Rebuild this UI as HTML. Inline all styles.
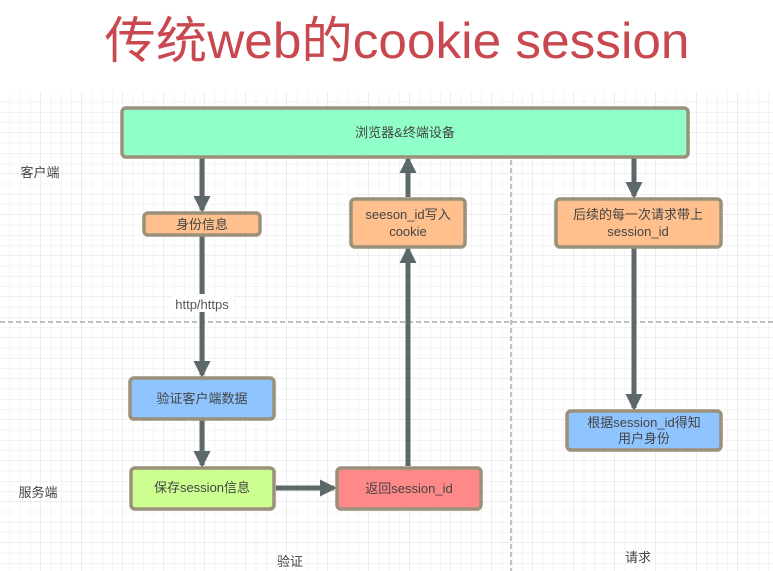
<!DOCTYPE html>
<html><head><meta charset="utf-8"><style>
html,body{margin:0;padding:0;background:#fff;}
svg{display:block;}
text{font-family:"Liberation Sans","Noto Sans CJK SC",sans-serif;}
</style></head><body>
<svg width="773" height="571" viewBox="0 0 773 571" xmlns="http://www.w3.org/2000/svg">
<defs>
<pattern id="g" x="0" y="92" width="10.25" height="10.25" patternUnits="userSpaceOnUse">
<path d="M10.25 0V10.25M0 10.25H10.25" stroke="#eaeaea" stroke-width="1" fill="none"/>
</pattern>
<pattern id="G" x="0" y="92" width="41" height="41" patternUnits="userSpaceOnUse">
<path d="M41 0V41M0 41H41" stroke="#dcdcdc" stroke-width="1" fill="none"/>
</pattern>
<marker id="a" markerWidth="3.4" markerHeight="3.4" refX="2.8" refY="1.7" orient="auto" markerUnits="strokeWidth">
<path d="M0,0 L3.4,1.7 L0,3.4 z" fill="#5d686a"/>
</marker>
</defs>
<rect x="0" y="0" width="773" height="571" fill="#fff"/>
<rect x="0" y="92" width="773" height="479" fill="url(#g)"/>
<rect x="0" y="92" width="773" height="479" fill="url(#G)"/>
<text x="397" y="58" font-size="50" fill="#c9474f" text-anchor="middle" textLength="585" lengthAdjust="spacingAndGlyphs">传统web的cookie session</text>

<line x1="0" y1="322" x2="773" y2="322" stroke="#999" stroke-width="1.2" stroke-dasharray="5,3"/>
<line x1="511" y1="160" x2="511" y2="571" stroke="#999" stroke-width="1.2" stroke-dasharray="5,3"/>

<g stroke="#5d686a" stroke-width="5" fill="none">
<line x1="202" y1="158" x2="202" y2="210" marker-end="url(#a)"/>
<line x1="202" y1="236" x2="202" y2="375" marker-end="url(#a)"/>
<line x1="202" y1="420" x2="202" y2="465" marker-end="url(#a)"/>
<line x1="276" y1="488" x2="334" y2="488" marker-end="url(#a)"/>
<line x1="408" y1="466" x2="408" y2="249" marker-end="url(#a)"/>
<line x1="408" y1="197" x2="408" y2="159" marker-end="url(#a)"/>
<line x1="634" y1="158" x2="634" y2="196" marker-end="url(#a)"/>
<line x1="634" y1="248" x2="634" y2="408" marker-end="url(#a)"/>
</g>
<rect x="172" y="294" width="62" height="18" fill="#fff"/>
<text x="202" y="309" font-size="13" fill="#555" text-anchor="middle">http/https</text>

<g stroke="#9b907a" stroke-width="3.5">
<rect x="122" y="108" width="566" height="49" rx="4" fill="#91ffc8"/>
<rect x="144" y="213" width="116" height="22" rx="4" fill="#ffc08d"/>
<rect x="351" y="199" width="114" height="48" rx="4" fill="#ffc08d"/>
<rect x="556" y="199" width="165" height="48" rx="4" fill="#ffc08d"/>
<rect x="130" y="378" width="144" height="41" rx="4" fill="#8fc4ff"/>
<rect x="131" y="468" width="143" height="41" rx="4" fill="#ccff90"/>
<rect x="337" y="468" width="144" height="41" rx="4" fill="#ff8888"/>
<rect x="567" y="411" width="154" height="39" rx="4" fill="#8fc4ff"/>
</g>
<g font-size="13" fill="#444" text-anchor="middle">
<text x="405" y="137">浏览器&amp;终端设备</text>
<text x="202" y="229">身份信息</text>
<text x="408" y="219">seeson_id写入</text>
<text x="408" y="236">cookie</text>
<text x="638" y="219">后续的每一次请求带上</text>
<text x="638" y="236">session_id</text>
<text x="202" y="403">验证客户端数据</text>
<text x="202" y="492">保存session信息</text>
<text x="409" y="493">返回session_id</text>
<text x="644" y="427">根据session_id得知</text>
<text x="644" y="443">用户身份</text>
<text x="40" y="177">客户端</text>
<text x="38" y="497">服务端</text>
<text x="290" y="566">验证</text>
<text x="638" y="562">请求</text>
</g>
</svg>
</body></html>
